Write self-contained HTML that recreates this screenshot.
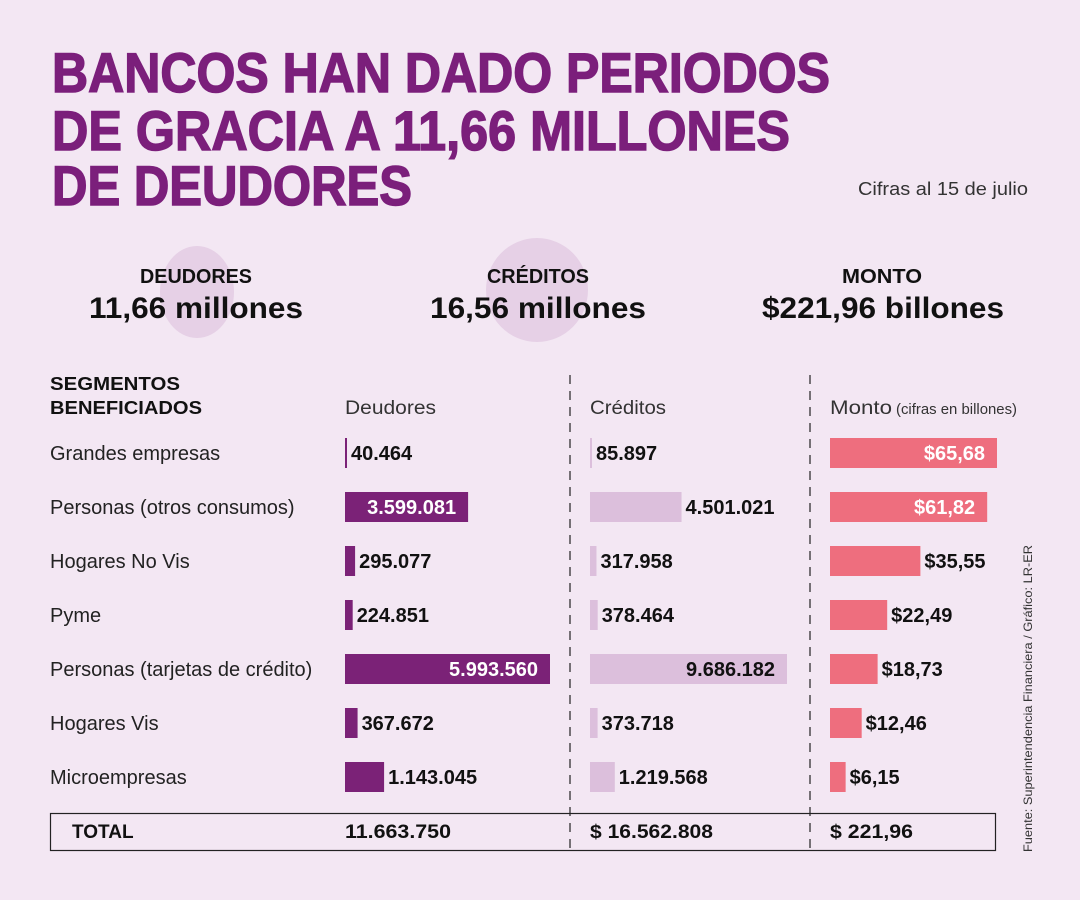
<!DOCTYPE html>
<html><head><meta charset="utf-8"><style>
html,body{margin:0;padding:0;background:#f3e7f3}
svg{display:block;font-family:"Liberation Sans",sans-serif}
</style></head><body>
<svg id="chart" width="1080" height="900" viewBox="0 0 1080 900">
<rect width="1080" height="900" fill="#f3e7f3"/>
<g fill="#7b1f7b" stroke="#7b1f7b" stroke-width="1.5" font-weight="bold" font-size="56">
<text x="52" y="92" textLength="778" lengthAdjust="spacingAndGlyphs">BANCOS HAN DADO PERIODOS</text>
<text x="52" y="150" textLength="738" lengthAdjust="spacingAndGlyphs">DE GRACIA A 11,66 MILLONES</text>
<text x="52" y="205" textLength="360" lengthAdjust="spacingAndGlyphs">DE DEUDORES</text>
</g>
<text x="858" y="195" font-size="18" fill="#333" textLength="170" lengthAdjust="spacingAndGlyphs">Cifras al 15 de julio</text>
<ellipse cx="197" cy="292" rx="37" ry="46" fill="#e6d0e6"/>
<ellipse cx="537" cy="290" rx="51" ry="52" fill="#e6d0e6"/>
<g font-weight="bold" fill="#111" text-anchor="middle">
<text x="196" y="283" font-size="20" textLength="112" lengthAdjust="spacingAndGlyphs">DEUDORES</text>
<text x="196" y="318" font-size="30" textLength="214" lengthAdjust="spacingAndGlyphs">11,66 millones</text>
<text x="538" y="283" font-size="20" textLength="102" lengthAdjust="spacingAndGlyphs">CRÉDITOS</text>
<text x="538" y="318" font-size="30" textLength="216" lengthAdjust="spacingAndGlyphs">16,56 millones</text>
<text x="882" y="283" font-size="20" textLength="80" lengthAdjust="spacingAndGlyphs">MONTO</text>
<text x="883" y="318" font-size="30" textLength="242" lengthAdjust="spacingAndGlyphs">$221,96 billones</text>
</g>
<g fill="#111">
<text x="50" y="390" font-size="18" font-weight="bold" textLength="130" lengthAdjust="spacingAndGlyphs">SEGMENTOS</text>
<text x="50" y="414" font-size="18" font-weight="bold" textLength="152" lengthAdjust="spacingAndGlyphs">BENEFICIADOS</text>
<text x="345" y="414" font-size="19" fill="#333" textLength="91" lengthAdjust="spacingAndGlyphs">Deudores</text>
<text x="590" y="414" font-size="19" fill="#333" textLength="76" lengthAdjust="spacingAndGlyphs">Créditos</text>
<text x="830" y="414" font-size="19" fill="#333" textLength="62" lengthAdjust="spacingAndGlyphs">Monto</text>
<text x="896" y="414" font-size="15" fill="#333" textLength="121" lengthAdjust="spacingAndGlyphs">(cifras en billones)</text>
</g>
<line x1="570" y1="375" x2="570" y2="852" stroke="#222" stroke-width="1.2" stroke-dasharray="9,7"/>
<line x1="810" y1="375" x2="810" y2="852" stroke="#222" stroke-width="1.2" stroke-dasharray="9,7"/>
<g id="rows"></g>
<rect x="50.5" y="813.5" width="945" height="37" fill="none" stroke="#222" stroke-width="1.2"/>
<g font-weight="bold" font-size="19" fill="#111">
<text x="72" y="838">TOTAL</text>
<text x="345" y="838" textLength="106" lengthAdjust="spacingAndGlyphs">11.663.750</text>
<text x="590" y="838" textLength="123" lengthAdjust="spacingAndGlyphs">$ 16.562.808</text>
<text x="830" y="838" textLength="83" lengthAdjust="spacingAndGlyphs">$ 221,96</text>
</g>
<text transform="translate(1032,852) rotate(-90)" font-size="12" fill="#333" textLength="307" lengthAdjust="spacingAndGlyphs">Fuente: Superintendencia Financiera / Gráfico: LR-ER</text>
</svg>
<script>
const categories = ["Grandes empresas","Personas (otros consumos)","Hogares No Vis","Pyme","Personas (tarjetas de crédito)","Hogares Vis","Microempresas"];
const deudores = [40464,3599081,295077,224851,5993560,367672,1143045];
const creditos = [85897,4501021,317958,378464,9686182,373718,1219568];
const monto = [65.68,61.82,35.55,22.49,18.73,12.46,6.15];
const deudoresLabels = ["40.464","3.599.081","295.077","224.851","5.993.560","367.672","1.143.045"];
const creditosLabels = ["85.897","4.501.021","317.958","378.464","9.686.182","373.718","1.219.568"];
const montoLabels = ["$65,68","$61,82","$35,55","$22,49","$18,73","$12,46","$6,15"];

const NS = "http://www.w3.org/2000/svg";
const g = document.getElementById('rows');
const yRow = i => 453 + i * 54;
const cols = [
  {vals: deudores, labels: deudoresLabels, x0: 345, scale: v => v / 5993560 * 205, fill: "#7b2277", inColor: "#fff", thr: 100, name: "deudores"},
  {vals: creditos, labels: creditosLabels, x0: 590, scale: v => v / 9686182 * 197, fill: "#dcbfdc", inColor: "#111", thr: 150, name: "creditos"},
  {vals: monto, labels: montoLabels, x0: 830, scale: v => v / 65.68 * 167, fill: "#ee6e7e", inColor: "#fff", thr: 120, name: "monto"}
];
function mk(tag, attrs) { const e = document.createElementNS(NS, tag); for (const k in attrs) e.setAttribute(k, attrs[k]); return e; }
categories.forEach((c, i) => {
  const y = yRow(i);
  const t = mk('text', {x: 50, y: y + 7, 'font-size': 20, fill: '#222'});
  
  
  t.textContent = c;
  g.appendChild(t);
  cols.forEach(col => {
    const w = Math.max(2, col.scale(col.vals[i]));
    const r = mk('rect', {x: col.x0, y: y - 15, width: w, height: 30, fill: col.fill});
    
    
    g.appendChild(r);
    const inside = w > col.thr;
    const lt = mk('text', {y: y + 7, 'font-size': 20, 'font-weight': 'bold'});
    
    
    if (inside) { lt.setAttribute('x', col.x0 + w - 12); lt.setAttribute('text-anchor', 'end'); lt.setAttribute('fill', col.inColor); }
    else { lt.setAttribute('x', col.x0 + w + 4); lt.setAttribute('fill', '#111'); }
    lt.textContent = col.labels[i];
    g.appendChild(lt);
  });
});
</script>
</body></html>
